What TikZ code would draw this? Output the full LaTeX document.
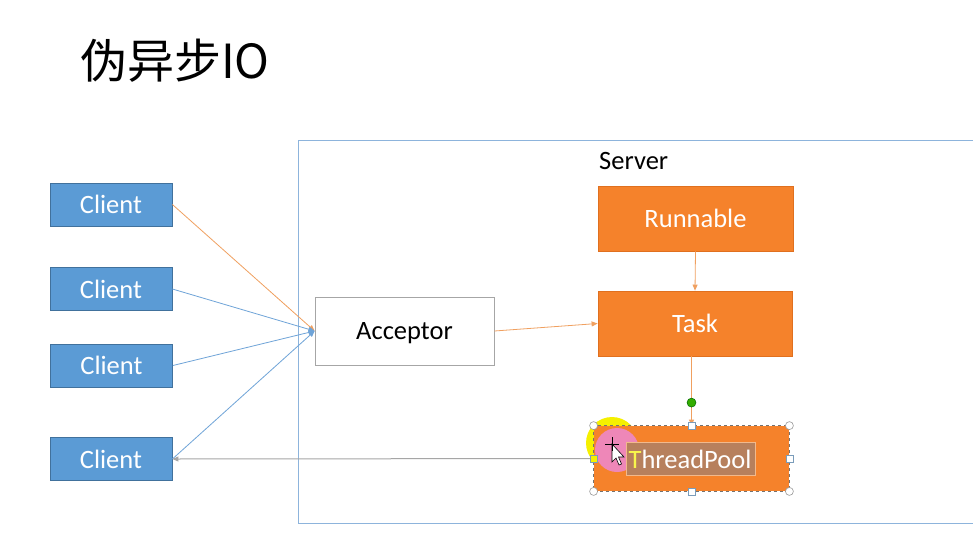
\documentclass[tikz,border=0pt]{standalone}
\usepackage{fontspec}
\setmainfont{Carlito}
\newfontfamily\cjk{Noto Sans CJK SC}
\usetikzlibrary{arrows.meta}
\definecolor{cblue}{HTML}{5B9BD5}
\definecolor{cbluedk}{HTML}{41719C}
\definecolor{corange}{HTML}{F5822B}
\definecolor{corangedk}{HTML}{E0701F}
\definecolor{cline}{HTML}{F0A060}
\definecolor{cblueln}{HTML}{6FA4D8}
\definecolor{cgray}{HTML}{A6A6A6}
\definecolor{cframe}{HTML}{8DB4DC}
\definecolor{chl}{HTML}{B7805D}
\definecolor{chlb}{HTML}{F2B98C}
\definecolor{cyell}{HTML}{F5F000}
\definecolor{cpink}{HTML}{EE88C8}
\tikzset{
  lbl/.style={font=\fontsize{26.5}{30}\selectfont},
  client/.style={lbl, draw=cbluedk, fill=cblue, text=white, line width=0.8pt, inner sep=0pt, minimum width=122pt, minimum height=43pt},
  obox/.style={lbl, draw=corangedk, fill=corange, text=white, line width=0.8pt, inner sep=0pt, minimum width=195pt, minimum height=65pt},
  wbox/.style={lbl, draw=cgray, fill=white, text=black, line width=0.8pt, inner sep=0pt, minimum width=179pt, minimum height=68pt},
  tip/.style={-{Triangle[length=6pt,width=5pt]}},
  oarr/.style={tip, draw=cline, line width=0.8pt},
  barr/.style={tip, draw=cblueln, line width=0.8pt},
  garr/.style={tip, draw=cgray, line width=1pt},
  hcirc/.style={circle, draw=gray!80, fill=white, line width=0.6pt, inner sep=0pt, minimum size=8pt},
  hsq/.style={rectangle, draw=cbluedk!70, fill=white, line width=0.6pt, inner sep=0pt, minimum size=7pt},
}
\begin{document}
\begin{tikzpicture}[x=1pt,y=-1pt]
\useasboundingbox[fill=white] (0,0) rectangle (973,533);
% title
\node[anchor=west, inner sep=0pt] (title) at (80,61) {\cjk\fontsize{47}{51}\selectfont 伪异步IO};
% server frame
\draw[cframe, line width=0.8pt] (990,140) -- (298,140) -- (298,523) -- (990,523);
\node[lbl, anchor=west, inner sep=0pt] (server) at (599,161) {Server};
% clients
\node[client] (c1) at (111,204.5) {Client};
\node[client] (c2) at (111,289) {Client};
\node[client] (c3) at (111.5,365.5) {Client};
\node[client] (c4) at (111,459) {Client};
% acceptor
\node[wbox, text depth=0pt] (acc) at (404.5,331) {Acceptor};
% server boxes
\node[obox] (run) at (695.5,218.5) {Runnable};
\node[obox, minimum width=194pt] (task) at (695,323.5) {Task};
% cursor highlight behind pool
\fill[cyell] (612,443) circle (26);
\node[obox, draw=none] (pool) at (691.5,458.5) {};
\fill[cpink, opacity=0.9] (617,450) circle (22);
% text selection box
\draw[chlb, fill=chl, line width=0.6pt] (626,442) rectangle (755,475);
\node[lbl, text=white, inner sep=0pt] (pooltxt) at (690,459.5) {\textcolor{cyell!70!white}{T}hreadPool};
% selection frame
\draw[gray!90!black, dashed, line width=0.7pt] (pool.north west) rectangle (pool.south east);
% connectors
\draw[oarr] (c1.east) -- (acc.west);
\draw[barr] (c2.east) -- (acc.west);
\draw[barr] (c3.east) -- (acc.west);
\draw[barr] (c4.east) -- (acc.west);
\draw[garr] (pool.west) -- (c4.east);
\draw[oarr] (acc.east) -- (task.west);
\draw[oarr] (run.south) -- (task.north);
\draw[oarr] (pool.north |- task.south) -- (pool.north);
% handles
\coordinate (rot) at ([yshift=23pt]pool.north);
\fill[green!60!black!80!yellow, draw=green!40!black, line width=0.5pt] (rot) circle (4.5);
\node[hcirc] (h1) at (pool.north west) {};
\node[hcirc] (h2) at (pool.north east) {};
\node[hcirc] (h3) at (pool.south west) {};
\node[hcirc] (h4) at (pool.south east) {};
\node[hsq] (h5) at (pool.north) {};
\node[hsq] (h6) at (pool.south) {};
\node[hsq] (h7) at (pool.east) {};
\node[hsq, fill=cyell] (h8) at (pool.west) {};
% cursor
\draw[black, fill=white, line width=0.6pt] (612,444) -- (612,462) -- (616,458) -- (619,465) -- (621.5,464) -- (618.5,457) -- (624,457) -- cycle;
\draw[black, line width=0.8pt] (605,444) -- (619,444) (612,437) -- (612,451);
\end{tikzpicture}
\end{document}
